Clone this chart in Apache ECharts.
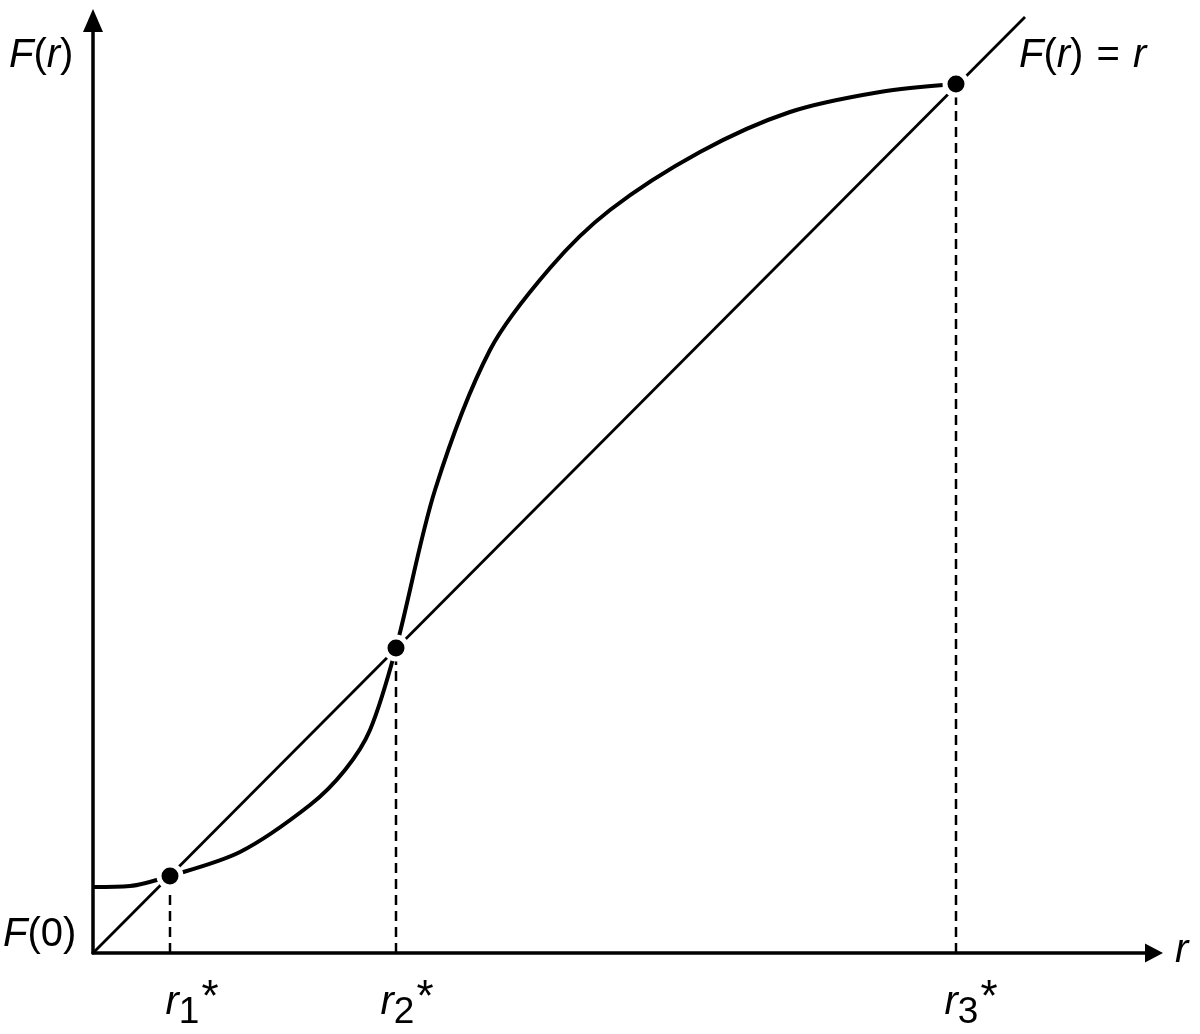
<!DOCTYPE html>
<html><head><meta charset="utf-8">
<script src="https://cdn.jsdelivr.net/npm/echarts@6/dist/echarts.min.js"></script>
<style>html,body{margin:0;padding:0;background:#fff}#c{width:1200px;height:1034px}</style>
</head><body><div id="c"></div>
<script>
// Curve F(r) (units: r along x, F(r) along y)
const curveR = [0.00, 0.37, 0.77, 1.47, 2.17, 2.52, 2.77, 3.03, 3.42, 3.97, 4.57, 5.17, 6.07, 6.97, 7.87, 8.63];
const curveF = [0.66, 0.67, 0.77, 1.01, 1.48, 1.83, 2.23, 3.05, 4.63, 6.03, 6.85, 7.43, 8.01, 8.41, 8.61, 8.69];
// Fixed points r1*, r2*, r3*
const fixedR = [0.77, 3.03, 8.63];
const fixedF = [0.77, 3.05, 8.69];
const fixedIdx = ['1', '2', '3'];
// Diagonal F(r) = r
const diagR = [0, 9.32];
const diagF = [0, 9.36];
const axisMaxR = 10.61;
const axisMaxF = 9.325;

// label style shifts (pixels), not data
const labelShift = [22, 11, 15];

const FONT = '"Liberation Sans", Arial, sans-serif';
const chart = echarts.init(document.getElementById('c'), null, {renderer: 'canvas'});

const dashedSeries = fixedR.map((r, i) => ({
  type: 'line',
  data: [[r, 0], [r, fixedF[i]]],
  symbol: 'none',
  silent: true,
  z: 2,
  lineStyle: {color: '#000', width: 2.5, type: [10, 6]}
}));

const labelSeries = {
  type: 'scatter',
  data: fixedR.map((r, i) => ({value: [r, 0], idx: fixedIdx[i], label: {offset: [labelShift[i], 0]}})),
  symbolSize: 0,
  itemStyle: {color: '#fff', opacity: 1},
  silent: true,
  label: {
    show: true,
    position: 'bottom',
    distance: 24,
    color: '#000',
    opacity: 1,
    formatter: p => '{r|r}{s|' + p.data.idx + '}{a|*}',
    rich: {
      r: {fontFamily: FONT, fontStyle: 'italic', fontSize: 40, color: '#000', verticalAlign: 'top', padding: [6, 0, 0, 0]},
      s: {fontFamily: FONT, fontSize: 37, color: '#000', verticalAlign: 'top', padding: [17, 0, 0, 0]},
      a: {fontFamily: FONT, fontSize: 44, color: '#000', verticalAlign: 'top', padding: [0, 0, 0, 2]}
    }
  }
};

const richMath = {
  i: {fontFamily: FONT, fontStyle: 'italic', fontSize: 40, color: '#000'},
  n: {fontFamily: FONT, fontSize: 40, color: '#000'},
  e: {fontFamily: FONT, fontSize: 40, color: '#000', padding: [0, 2, 0, 2]}
};

chart.setOption({
  animation: false,
  backgroundColor: '#fff',
  grid: {left: 93, right: 46, top: 20.5, bottom: 81},
  xAxis: {
    type: 'value', min: 0, max: axisMaxR,
    axisLine: {show: true, onZero: false, symbol: ['none', 'triangle'], symbolSize: [19, 18], lineStyle: {color: '#000', width: 3.5}},
    axisTick: {show: false}, axisLabel: {show: false}, splitLine: {show: false}
  },
  yAxis: {
    type: 'value', min: 0, max: axisMaxF,
    axisLine: {show: true, onZero: false, symbol: ['none', 'triangle'], symbolSize: [20, 23], lineStyle: {color: '#000', width: 3.5}},
    axisTick: {show: false}, axisLabel: {show: false}, splitLine: {show: false}
  },
  series: [
    {
      type: 'line', data: diagR.map((r, i) => [r, diagF[i]]), symbol: 'none', clip: false, silent: true, z: 2,
      lineStyle: {color: '#000', width: 2.8}
    },
    {
      type: 'line', data: curveR.map((r, i) => [r, curveF[i]]), symbol: 'none', smooth: 0.3, silent: true, z: 3,
      lineStyle: {color: '#000', width: 4}
    },
    ...dashedSeries,
    labelSeries,
    {
      type: 'scatter', data: fixedR.map((r, i) => [r, fixedF[i]]), symbol: 'circle', symbolSize: 22, z: 10, silent: true,
      itemStyle: {color: '#000', opacity: 1, borderColor: '#fff', borderWidth: 5}
    }
  ],
  graphic: [
    {type: 'text', left: 9, top: 36, z: 20, style: {text: '{i|F}{n|(}{i|r}{n|)}', rich: richMath}},
    {type: 'text', left: 1019, top: 36, z: 20, style: {text: '{i|F}{n|(}{i|r}{n|) }{e|=}{n| }{i|r}', rich: richMath}},
    {type: 'text', left: 1175, top: 931, z: 20, style: {text: '{i|r}', rich: richMath}},
    {type: 'text', left: 3, top: 915, z: 20, style: {text: '{i|F}{n|(0)}', rich: richMath}}
  ]
});
</script></body></html>
